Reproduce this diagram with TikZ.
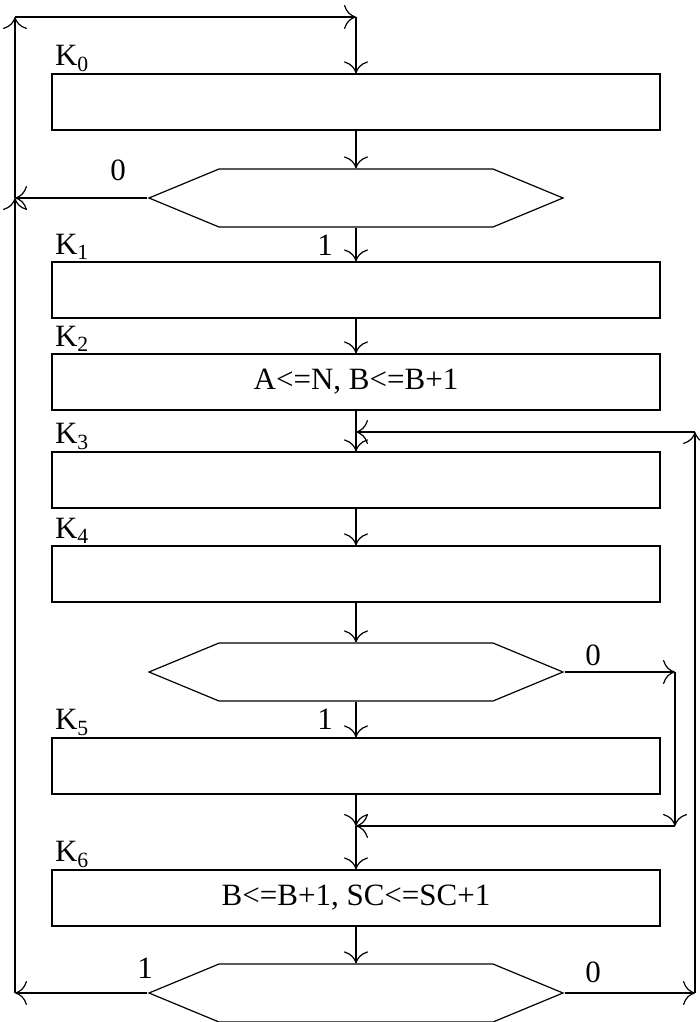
\documentclass[tikz,border=0pt]{standalone}
\usepackage{fontspec}
\setmainfont{Liberation Serif}
\usetikzlibrary{arrows.meta,shapes.symbols}

\begin{document}
\begin{tikzpicture}[
    x=1pt, y=-1pt,
    font=\fontsize{31}{36}\selectfont,
    line width=1.2pt,
    block/.style={rectangle, draw, minimum width=608pt, minimum height=56pt, inner sep=0pt},
    decision/.style={signal, signal to=west and east, signal pointer angle=45, draw, minimum width=414pt, minimum height=58pt, inner sep=0pt},
    arrow/.style={-{Computer Modern Rightarrow[length=12pt,width=24pt]}},
    klabel/.style={anchor=south west, inner sep=1pt, xshift=2pt}
]
\useasboundingbox (0,0) rectangle (700,1022);

\node[block] (k0) at (356,102) {};
\node[decision] (d1) at (356,198) {};
\node[block] (k1) at (356,290) {};
\node[block] (k2) at (356,382) {A<=N, B<=B+1};
\node[block] (k3) at (356,480) {};
\node[block] (k4) at (356,574) {};
\node[decision] (d2) at (356,672) {};
\node[block] (k5) at (356,766) {};
\node[block] (k6) at (356,898) {B<=B+1, SC<=SC+1};
\node[decision] (d3) at (356,993) {};

\node[klabel] (lk0) at (k0.north west) {K\textsubscript{0}};
\node[klabel] (lk1) at (k1.north west) {K\textsubscript{1}};
\node[klabel] (lk2) at (k2.north west) {K\textsubscript{2}};
\node[klabel] (lk3) at (k3.north west) {K\textsubscript{3}};
\node[klabel] (lk4) at (k4.north west) {K\textsubscript{4}};
\node[klabel] (lk5) at (k5.north west) {K\textsubscript{5}};
\node[klabel] (lk6) at (k6.north west) {K\textsubscript{6}};

\node (d1no) at (118,170) {0};
\node (d1yes) at (325,245) {1};
\node (d2no) at (593,655) {0};
\node (d2yes) at (325,719) {1};
\node (d3yes) at (145,968) {1};
\node (d3no) at (593,972) {0};

\coordinate (tl) at (15,17);
\coordinate (tr) at (356,17);
\coordinate (ml) at (d1.west -| tl);
\coordinate (bl) at (d3.west -| tl);
\coordinate (br) at (695,993);
\coordinate (rt) at (695,432);
\coordinate (j3) at (356,432);
\coordinate (r2) at (675,672);
\coordinate (r2b) at (675,826);
\coordinate (j6) at (356,826);

% main line
\draw[arrow] (k0) -- (d1);
\draw[arrow] (d1) -- (k1);
\draw[arrow] (k1) -- (k2);
\draw[arrow] (k2) -- (k3);
\draw[arrow] (k3) -- (k4);
\draw[arrow] (k4) -- (d2);
\draw[arrow] (d2) -- (k5);
\draw[arrow] (k5.south) -- (j6);
\draw[arrow] (j6) -- (k6.north);
\draw[arrow] (k6) -- (d3);

% outer loop
\draw[arrow] (d1.west) -- (ml);
\draw[arrow] (d3.west) -- (bl);
\draw[arrow] (bl) -- (ml);
\draw[arrow] (ml) -- (tl);
\draw[arrow] (tl) -- (tr);
\draw[arrow] (tr) -- (k0.north);

% right loops
\draw[arrow] (d3.east) -- (br);
\draw[arrow] (br) -- (rt);
\draw[arrow] (rt) -- (j3);
\draw[arrow] (d2.east) -- (r2);
\draw[arrow] (r2) -- (r2b);
\draw[arrow] (r2b) -- (j6);
\end{tikzpicture}
\end{document}
